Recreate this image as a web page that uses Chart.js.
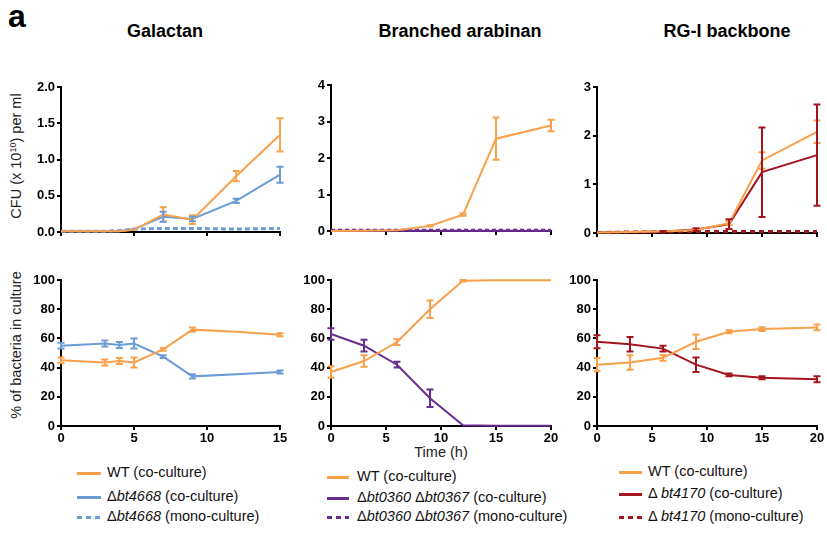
<!DOCTYPE html>
<html><head><meta charset="utf-8">
<script src="https://cdn.jsdelivr.net/npm/chart.js@4/dist/chart.umd.min.js"></script>
<style>
body{margin:0;background:#fff;width:827px;height:539px;overflow:hidden;position:relative;font-family:"Liberation Sans",Arial,sans-serif;color:#000;}
canvas{position:absolute;}
.t{position:absolute;white-space:nowrap;}
.title{font-weight:bold;font-size:18px;transform:translateX(-50%);}
.ylab{font-size:14.5px;transform:translate(-50%,-50%) rotate(-90deg);color:#222;}
.leg{position:absolute;font-size:14.5px;white-space:nowrap;color:#111;}
.leg .tx{position:absolute;top:-9px;}
.sw{position:absolute;top:-1px;height:3px;}
</style></head><body>
<div class="t" style="left:8px;top:-2px;font-size:32px;font-weight:bold;">a</div>
<div class="t title" style="left:165px;top:21px;">Galactan</div>
<div class="t title" style="left:460px;top:21px;">Branched arabinan</div>
<div class="t title" style="left:727px;top:21px;">RG-I backbone</div>
<div class="t ylab" style="left:16px;top:156px;">CFU (x 10<sup style="font-size:9px">10</sup>) per ml</div>
<div class="t ylab" style="left:16px;top:345px;">% of bacteria in culture</div>
<div class="t" style="left:441px;top:444px;transform:translateX(-50%);font-size:14.5px;color:#222;">Time (h)</div>
<div id="legends"></div>
<script>
// ---------- colours ----------
const ORANGE = '#F8A04A', BLUE = '#6C9BD6', PURPLE = '#6A2D8F', DARKRED = '#A3151E';

// ---------- Galactan ----------
const galTimes      = [0, 3, 4, 5, 7, 9, 12, 15];
const galCfuWT      = [0.01, 0.01, 0.01, 0.03, 0.24, 0.17, 0.77, 1.34];
const galCfuWTErr   = [0, 0, 0, 0, 0.10, 0.06, 0.07, 0.23];
const galCfuMut     = [0.01, 0.01, 0.01, 0.04, 0.21, 0.18, 0.43, 0.79];
const galCfuMutErr  = [0, 0, 0, 0, 0.07, 0.03, 0.03, 0.11];
const galCfuMono    = [0.01, 0.01, 0.02, 0.04, 0.05, 0.05, 0.04, 0.05];
const galPctWT      = [45, 43.5, 44.5, 43.5, 52.5, 66, 64.5, 62.5];
const galPctWTErr   = [2, 2, 2, 3.5, 1, 1.5, 0, 1];
const galPctMut     = [55, 56.5, 55.5, 56.5, 47.5, 34, 35.5, 37];
const galPctMutErr  = [2, 2, 2, 3.5, 1, 1.5, 0, 1];

// ---------- Branched arabinan ----------
const araTimes      = [0, 3, 6, 9, 12, 15, 20];
const araCfuWT      = [0.0, 0.01, 0.02, 0.14, 0.45, 2.53, 2.89];
const araCfuWTErr   = [0, 0, 0, 0.02, 0.03, 0.58, 0.16];
const araCfuMut     = [0.01, 0.01, 0.01, 0.01, 0.01, 0.01, 0.01];
const araCfuMono    = [0.02, 0.02, 0.02, 0.02, 0.02, 0.02, 0.02];
const araPctWT      = [37, 44.5, 57.5, 80, 99.5, 99.8, 99.8];
const araPctWTErr   = [4, 4, 2, 6, 0.5, 0, 0];
const araPctMut     = [63, 55, 42, 19, 0.5, 0.2, 0.2];
const araPctMutErr  = [4, 4, 2, 6, 0, 0, 0];

// ---------- RG-I backbone ----------
const rgTimes       = [0, 3, 6, 9, 12, 15, 20];
const rgCfuWT       = [0.01, 0.02, 0.03, 0.06, 0.20, 1.49, 2.08];
const rgCfuWTErr    = [0, 0, 0, 0.02, 0.04, 0.17, 0.23];
const rgCfuMut      = [0.01, 0.02, 0.03, 0.07, 0.18, 1.25, 1.60];
const rgCfuMutErr   = [0, 0, 0.01, 0.03, 0.10, 0.92, 1.04];
const rgCfuMono     = [0.01, 0.02, 0.02, 0.03, 0.03, 0.03, 0.03];
const rgPctWT       = [42, 43.5, 46.7, 57.7, 64.6, 66.4, 67.5];
const rgPctWTErr    = [4.5, 5, 2, 5, 1, 1.3, 2];
const rgPctMut      = [57.7, 56, 53, 42, 35, 33, 32];
const rgPctMutErr   = [4.5, 5, 2, 5, 1, 1, 2];

// ---------- helpers ----------
const pts = (xs, ys) => xs.map((x, i) => ({x: x, y: ys[i]}));
function ds(xs, ys, color, errs, dash) {
  return {data: pts(xs, ys), borderColor: color, backgroundColor: color,
    borderWidth: dash ? 3 : 2, borderDash: dash || [], pointRadius: 0, tension: 0,
    clip: false, errors: errs || null};
}
const errorBars = {
  id: 'errorBars',
  afterDatasetsDraw(chart) {
    const ctx = chart.ctx, xs = chart.scales.x, ys = chart.scales.y;
    chart.data.datasets.forEach(d => {
      if (!d.errors) return;
      ctx.save(); ctx.strokeStyle = d.borderColor; ctx.lineWidth = 2; ctx.setLineDash([]);
      d.data.forEach((p, j) => {
        const e = d.errors[j]; if (!e) return;
        const x = xs.getPixelForValue(p.x);
        const y1 = ys.getPixelForValue(p.y + e), y2 = ys.getPixelForValue(Math.max(p.y - e, ys.min));
        ctx.beginPath();
        ctx.moveTo(x, y1); ctx.lineTo(x, y2);
        ctx.moveTo(x - 3.5, y1); ctx.lineTo(x + 3.5, y1);
        ctx.moveTo(x - 3.5, y2); ctx.lineTo(x + 3.5, y2);
        ctx.stroke();
      });
      ctx.restore();
    });
  }
};
const tickFont = {family: '"Liberation Sans", Arial, sans-serif', size: 13, weight: 'bold'};
function makeChart(box, datasets, xMax, yMax, yStep, showX, yDec) {
  const PL = 48, PT = 10, PR = 14, PB = 26;
  const w = PL + box.r - box.l + PR, h = PT + box.b - box.t + PB;
  const c = document.createElement('canvas');
  c.width = w; c.height = h;
  c.style.left = (box.l - PL) + 'px'; c.style.top = (box.t - PT) + 'px';
  c.style.width = w + 'px'; c.style.height = h + 'px';
  document.body.appendChild(c);
  const axisCommon = {
    grid: {display: true, drawOnChartArea: false, drawTicks: true, tickLength: 4, color: '#000', lineWidth: 2},
    border: {display: true, color: '#000', width: 2}
  };
  new Chart(c, {
    type: 'line',
    data: {datasets: datasets},
    options: {
      responsive: false, animation: false, devicePixelRatio: 1,
      layout: {padding: {left: 0, top: PT, right: PR, bottom: 0}},
      plugins: {legend: {display: false}, tooltip: {enabled: false}},
      scales: {
        x: Object.assign({type: 'linear', min: 0, max: xMax,
          ticks: {stepSize: 5, color: '#000', font: tickFont, padding: 1,
                  callback: v => showX ? String(v) : ''},
          afterFit: s => { s.height = PB; }}, axisCommon),
        y: Object.assign({type: 'linear', min: 0, max: yMax,
          ticks: {stepSize: yStep, color: '#000', font: tickFont, padding: 2,
                  callback: v => yDec ? v.toFixed(1) : String(v)},
          afterFit: s => { s.width = PL; }}, axisCommon)
      }
    },
    plugins: [errorBars]
  });
}

// ---------- panels ----------
makeChart({l: 61, r: 280, t: 87, b: 232}, [
  ds(galTimes, galCfuWT, ORANGE, galCfuWTErr),
  ds(galTimes, galCfuMut, BLUE, galCfuMutErr),
  ds(galTimes, galCfuMono, BLUE, null, [5, 3])
], 15, 2, 0.5, false, true);
makeChart({l: 61, r: 280, t: 280, b: 426}, [
  ds(galTimes, galPctWT, ORANGE, galPctWTErr),
  ds(galTimes, galPctMut, BLUE, galPctMutErr)
], 15, 100, 20, true, false);

makeChart({l: 331, r: 551, t: 85, b: 231}, [
  ds(araTimes, araCfuWT, ORANGE, araCfuWTErr),
  ds(araTimes, araCfuMono, PURPLE, null, [4, 3]),
  ds(araTimes, araCfuMut, PURPLE)
], 20, 4, 1, false, false);
makeChart({l: 331, r: 551, t: 280, b: 426}, [
  ds(araTimes, araPctWT, ORANGE, araPctWTErr),
  ds(araTimes, araPctMut, PURPLE, araPctMutErr)
], 20, 100, 20, true, false);

makeChart({l: 597, r: 817, t: 87, b: 233}, [
  ds(rgTimes, rgCfuWT, ORANGE, rgCfuWTErr),
  ds(rgTimes, rgCfuMut, DARKRED, rgCfuMutErr),
  ds(rgTimes, rgCfuMono, DARKRED, null, [5, 4])
], 20, 3, 1, false, false);
makeChart({l: 597, r: 817, t: 280, b: 426}, [
  ds(rgTimes, rgPctWT, ORANGE, rgPctWTErr),
  ds(rgTimes, rgPctMut, DARKRED, rgPctMutErr)
], 20, 100, 20, true, false);

// ---------- legends ----------
const legendLabels1 = ['WT (co-culture)', 'Δ<i>bt4668</i> (co-culture)', 'Δ<i>bt4668</i> (mono-culture)'];
const legendLabels2 = ['WT (co-culture)', 'Δ<i>bt0360</i> Δ<i>bt0367</i> (co-culture)', 'Δ<i>bt0360</i> Δ<i>bt0367</i> (mono-culture)'];
const legendLabels3 = ['WT (co-culture)', 'Δ <i>bt4170</i> (co-culture)', 'Δ <i>bt4170</i> (mono-culture)'];
function legend(x, tx, w, rows, labels, color) {
  const cols = [ORANGE, color, color];
  labels.forEach((lab, i) => {
    const d = document.createElement('div');
    d.className = 'leg'; d.style.left = x + 'px'; d.style.top = rows[i] + 'px';
    const bg = i === 2
      ? `repeating-linear-gradient(to right, ${cols[i]} 0 5px, transparent 5px 9px)`
      : cols[i];
    d.innerHTML = `<span class="sw" style="left:0;width:${w}px;background:${bg}"></span>` +
                  `<span class="tx" style="left:${tx - x}px">${lab}</span>`;
    document.body.appendChild(d);
  });
}
legend(77, 107, 24, [473, 497, 517], legendLabels1, BLUE);
legend(327, 357, 22, [477, 498, 517], legendLabels2, PURPLE);
legend(619, 648, 23, [472, 494, 517], legendLabels3, DARKRED);
</script>
</body></html>
